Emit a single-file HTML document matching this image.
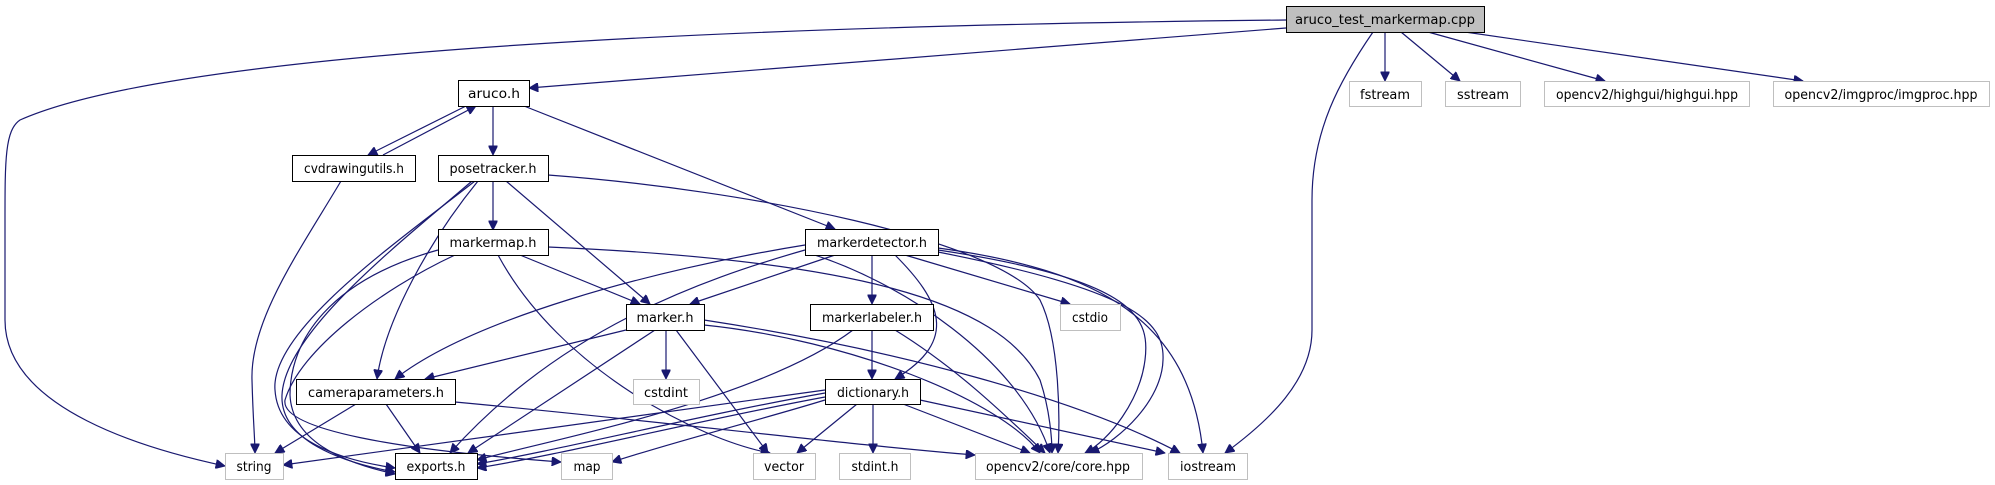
<!DOCTYPE html>
<html><head><meta charset="utf-8"><style>
html,body{margin:0;padding:0;background:#fff;}
svg{display:block;}
text{font-family:"DejaVu Sans","Liberation Sans",sans-serif;font-size:13px;fill:#000;}
.e{fill:none;stroke:#191970;stroke-width:1.2;}
</style></head><body>
<svg width="1995" height="485" viewBox="0 0 1995 485" xmlns="http://www.w3.org/2000/svg">
<defs>
<marker id="a" viewBox="0 0 10 10" refX="10" refY="5" markerWidth="10" markerHeight="9" markerUnits="userSpaceOnUse" orient="auto">
<path d="M0,0 L10,5 L0,10 z" fill="#191970" stroke="#191970"/>
</marker>
</defs>
<g marker-end="url(#a)">
<!-- root edges -->
<path class="e" d="M1286,20 C900,24 200,40 20,120 C5,130 5,160 5,220 L5,320 C5,410 150,450 225,466"/>
<path class="e" d="M1286,28 L529,88"/>
<path class="e" d="M1385,32 L1385,81"/>
<path class="e" d="M1401,32 L1460,81"/>
<path class="e" d="M1428,32 L1605,81"/>
<path class="e" d="M1465,32 L1803,81"/>
<path class="e" d="M1373,32 C1340,80 1312,130 1312,200 L1312,330 C1312,380 1270,420 1225,453"/>
<!-- aruco -->
<path class="e" d="M466,106 L368,155"/>
<path class="e" d="M383,155 L476,106"/>
<path class="e" d="M493,106 L493,155"/>
<path class="e" d="M524,106 L835,229"/>
<!-- cvdrawingutils -->
<path class="e" d="M341,181 C300,250 250,320 252,380 C253,420 255,440 255,453"/>
<!-- posetracker -->
<path class="e" d="M493,181 L493,230"/>
<path class="e" d="M506,181 L650,304"/>
<path class="e" d="M478,181 C430,240 385,320 377,379"/>
<path class="e" d="M475,181 C400,240 270,330 275,390 C278,440 340,460 395,468"/>
<path class="e" d="M472,181 C410,235 285,330 282,395 C280,440 340,462 395,472"/>
<path class="e" d="M548,175 C750,190 1000,240 1040,300 C1060,340 1060,420 1058,453"/>
<!-- markermap -->
<path class="e" d="M438,250 C330,280 290,340 290,395 C292,440 340,462 395,474"/>
<path class="e" d="M455,255 C380,290 300,350 285,400 C280,430 400,450 561,462"/>
<path class="e" d="M520,255 L640,304"/>
<path class="e" d="M498,255 C560,370 700,440 770,453"/>
<path class="e" d="M548,247 C850,260 1000,300 1040,380 C1050,410 1052,440 1052,453"/>
<!-- markerdetector -->
<path class="e" d="M805,245 C650,270 470,320 395,379"/>
<path class="e" d="M805,250 C700,280 560,330 450,453"/>
<path class="e" d="M835,255 L690,304"/>
<path class="e" d="M872,255 L872,304"/>
<path class="e" d="M895,255 C940,300 960,340 895,379"/>
<path class="e" d="M905,255 L1070,304"/>
<path class="e" d="M938,250 C1140,280 1150,320 1145,360 C1140,400 1110,440 1085,453"/>
<path class="e" d="M938,252 C1130,290 1165,320 1163,360 C1162,400 1120,440 1090,453"/>
<path class="e" d="M938,248 C1100,270 1190,320 1203,453"/>
<path class="e" d="M805,252 C900,280 1020,360 1050,453"/>
<!-- marker.h -->
<path class="e" d="M626,330 L425,379"/>
<path class="e" d="M655,330 L468,453"/>
<path class="e" d="M666,330 L666,379"/>
<path class="e" d="M676,330 L768,453"/>
<path class="e" d="M704,325 C850,340 1000,400 1040,453"/>
<path class="e" d="M704,320 C900,350 1080,400 1180,453"/>
<!-- markerlabeler -->
<path class="e" d="M853,330 C760,400 550,440 477,460"/>
<path class="e" d="M872,330 L872,379"/>
<path class="e" d="M895,330 C960,370 1010,420 1045,453"/>
<!-- dictionary -->
<path class="e" d="M825,390 C600,420 400,450 283,465"/>
<path class="e" d="M825,393 C700,415 560,450 477,464"/>
<path class="e" d="M825,397 C700,420 560,455 477,468"/>
<path class="e" d="M825,400 C760,420 680,440 612,462"/>
<path class="e" d="M857,404 L797,453"/>
<path class="e" d="M873,404 L873,453"/>
<path class="e" d="M903,404 L1030,453"/>
<path class="e" d="M920,400 L1165,453"/>
<!-- cameraparameters -->
<path class="e" d="M356,404 L275,453"/>
<path class="e" d="M386,404 L420,453"/>
<path class="e" d="M455,402 C650,420 850,445 975,455"/>
</g>
<g stroke-width="1">
<!-- black nodes -->
<rect x="1286.5" y="6.5" width="198" height="26" fill="#bfbfbf" stroke="#000"/>
<rect x="458.5" y="80.5" width="71" height="26" fill="#fff" stroke="#000"/>
<rect x="292.5" y="155.5" width="123" height="26" fill="#fff" stroke="#000"/>
<rect x="438.5" y="155.5" width="110" height="26" fill="#fff" stroke="#000"/>
<rect x="438.5" y="229.5" width="110" height="26" fill="#fff" stroke="#000"/>
<rect x="805.5" y="229.5" width="133" height="26" fill="#fff" stroke="#000"/>
<rect x="626.5" y="304.5" width="78" height="26" fill="#fff" stroke="#000"/>
<rect x="810.5" y="304.5" width="123" height="26" fill="#fff" stroke="#000"/>
<rect x="296.5" y="379.5" width="159" height="25" fill="#fff" stroke="#000"/>
<rect x="825.5" y="379.5" width="95" height="25" fill="#fff" stroke="#000"/>
<rect x="395.5" y="453.5" width="82" height="26" fill="#fff" stroke="#000"/>
<!-- grey nodes -->
<g fill="#fff" stroke="#bfbfbf">
<rect x="1349.5" y="81.5" width="72" height="25"/>
<rect x="1445.5" y="81.5" width="75" height="25"/>
<rect x="1544.5" y="81.5" width="205" height="25"/>
<rect x="1773.5" y="81.5" width="216" height="25"/>
<rect x="1060.5" y="304.5" width="60" height="26"/>
<rect x="633.5" y="379.5" width="66" height="25"/>
<rect x="225.5" y="453.5" width="58" height="26"/>
<rect x="561.5" y="453.5" width="51" height="26"/>
<rect x="753.5" y="453.5" width="62" height="26"/>
<rect x="839.5" y="453.5" width="71" height="26"/>
<rect x="975.5" y="453.5" width="167" height="26"/>
<rect x="1168.5" y="453.5" width="79" height="26"/>
</g>
</g>
<g text-anchor="middle">
<text x="1385" y="24" textLength="180" lengthAdjust="spacingAndGlyphs">aruco_test_markermap.cpp</text>
<text x="494" y="98" textLength="52" lengthAdjust="spacingAndGlyphs">aruco.h</text>
<text x="354" y="173" textLength="100" lengthAdjust="spacingAndGlyphs">cvdrawingutils.h</text>
<text x="493" y="173" textLength="87" lengthAdjust="spacingAndGlyphs">posetracker.h</text>
<text x="493" y="247" textLength="87" lengthAdjust="spacingAndGlyphs">markermap.h</text>
<text x="872" y="247" textLength="110" lengthAdjust="spacingAndGlyphs">markerdetector.h</text>
<text x="665" y="322" textLength="57" lengthAdjust="spacingAndGlyphs">marker.h</text>
<text x="872" y="322" textLength="100" lengthAdjust="spacingAndGlyphs">markerlabeler.h</text>
<text x="376" y="397" textLength="136" lengthAdjust="spacingAndGlyphs">cameraparameters.h</text>
<text x="873" y="397" textLength="72" lengthAdjust="spacingAndGlyphs">dictionary.h</text>
<text x="436" y="471" textLength="59" lengthAdjust="spacingAndGlyphs">exports.h</text>
<text x="1385" y="99" textLength="50" lengthAdjust="spacingAndGlyphs">fstream</text>
<text x="1483" y="99" textLength="52" lengthAdjust="spacingAndGlyphs">sstream</text>
<text x="1647" y="99" textLength="182" lengthAdjust="spacingAndGlyphs">opencv2/highgui/highgui.hpp</text>
<text x="1881" y="99" textLength="193" lengthAdjust="spacingAndGlyphs">opencv2/imgproc/imgproc.hpp</text>
<text x="1090" y="322" textLength="36" lengthAdjust="spacingAndGlyphs">cstdio</text>
<text x="666" y="397" textLength="44" lengthAdjust="spacingAndGlyphs">cstdint</text>
<text x="254" y="471" textLength="35" lengthAdjust="spacingAndGlyphs">string</text>
<text x="587" y="471" textLength="27" lengthAdjust="spacingAndGlyphs">map</text>
<text x="784" y="471" textLength="40" lengthAdjust="spacingAndGlyphs">vector</text>
<text x="875" y="471" textLength="47" lengthAdjust="spacingAndGlyphs">stdint.h</text>
<text x="1058" y="471" textLength="144" lengthAdjust="spacingAndGlyphs">opencv2/core/core.hpp</text>
<text x="1208" y="471" textLength="56" lengthAdjust="spacingAndGlyphs">iostream</text>
</g>
</svg>
</body></html>
